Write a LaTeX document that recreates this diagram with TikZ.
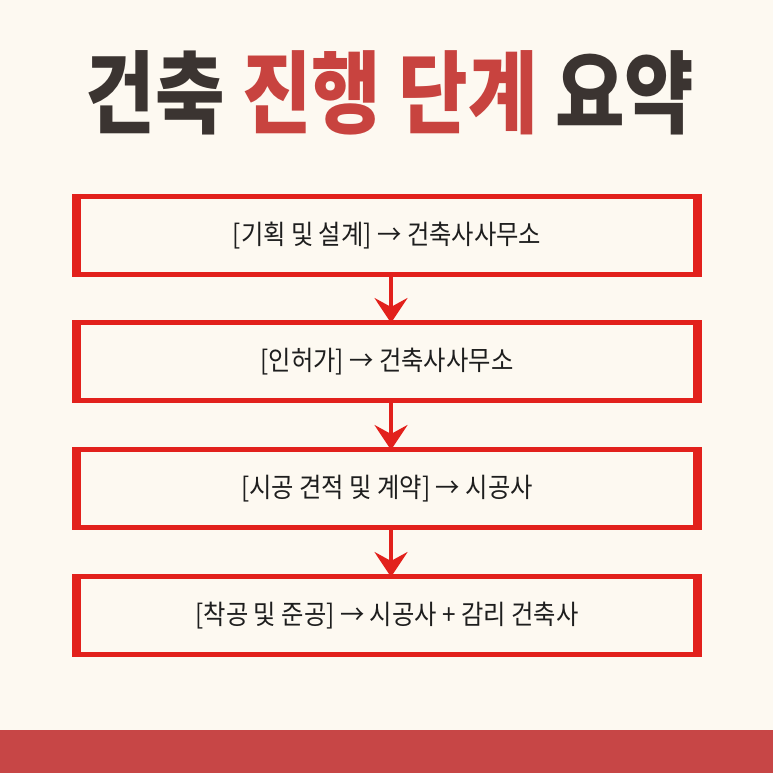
\documentclass[tikz,border=0pt]{standalone}
\usepackage{fontspec}
\usepackage{graphicx}
\newfontfamily\kr{Noto Sans CJK KR}
\usetikzlibrary{arrows.meta}
\definecolor{bgcream}{HTML}{FDF9F1}
\definecolor{bandred}{HTML}{C74646}
\definecolor{boxred}{HTML}{E2211C}
\definecolor{titlered}{HTML}{C8433F}
\definecolor{inkdark}{HTML}{3B3431}
\definecolor{textdark}{HTML}{1E1E1E}

\begin{document}
\begin{tikzpicture}[x=1pt,y=1pt]
\useasboundingbox (0,0) rectangle (773,773);
\fill[bgcream] (0,0) rectangle (773,773);
\fill[bandred] (0,0) rectangle (773,43);
\begin{scope}
\tikzstyle{stage}=[draw=boxred, line width=5pt, outer sep=0pt, minimum width=621pt, minimum height=78pt, text=textdark, font=\kr\fontsize{27}{30}\selectfont];
\tikzstyle{side}=[draw=boxred, line width=9pt];
\tikzstyle{flow}=[draw=boxred, line width=3.5pt, -{Stealth[length=25pt,width=33pt,inset=9pt]}];
\draw (390,680) node (title) {\scalebox{0.84}[1]{\kr\bfseries\fontsize{90}{100}\selectfont \textcolor{inkdark}{건축} \textcolor{titlered}{진행 단계} \textcolor{inkdark}{요약}}};
\draw (387,537.5) node[stage] (s1) {\scalebox{0.9}[1]{[기획 및 설계] → 건축사사무소}};
\draw (387,411) node[stage] (s2) {\scalebox{0.9}[1]{[인허가] → 건축사사무소}};
\draw (387,284) node[stage] (s3) {\scalebox{0.9}[1]{[시공 견적 및 계약] → 시공사}};
\draw (387,157) node[stage] (s4) {\scalebox{0.9}[1]{[착공 및 준공] → 시공사 + 감리 건축사}};
\foreach \s in {s1,s2,s3,s4}
  \draw[side] ([yshift=2.5pt]\s.north west) -- ([yshift=-2.5pt]\s.south west)
  ([yshift=2.5pt]\s.north east) -- ([yshift=-2.5pt]\s.south east);
\draw[flow] ([xshift=4pt]s1.south) -- ([xshift=4pt]s2.north);
\draw[flow] ([xshift=4pt]s2.south) -- ([xshift=4pt]s3.north);
\draw[flow] ([xshift=4pt]s3.south) -- ([xshift=4pt]s4.north);
\end{scope}
\end{tikzpicture}
\end{document}
